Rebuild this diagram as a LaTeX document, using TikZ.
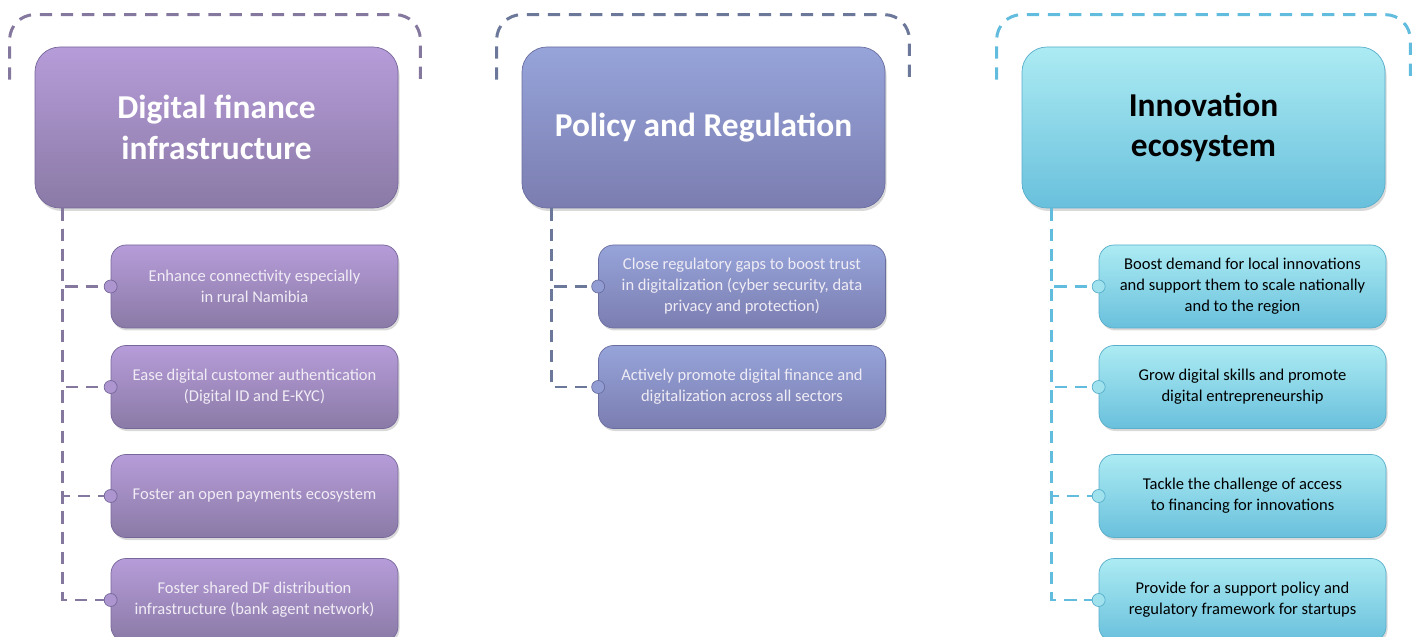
\documentclass[tikz,border=0pt]{standalone}
\usepackage{fontspec}
\setmainfont{Carlito}
\usepackage{tikz}
\usetikzlibrary{positioning,shadows}

\definecolor{dfTop}{HTML}{B69CD9}
\definecolor{dfBot}{HTML}{8A7AA6}
\definecolor{dfEdge}{HTML}{76679A}
\definecolor{dfLine}{HTML}{85789F}
\definecolor{prTop}{HTML}{96A4DA}
\definecolor{prBot}{HTML}{7B7DB0}
\definecolor{prEdge}{HTML}{6A6E9F}
\definecolor{prLine}{HTML}{6C7899}
\definecolor{ieTop}{HTML}{ACEBF3}
\definecolor{ieBot}{HTML}{69C0DC}
\definecolor{ieEdge}{HTML}{58AECB}
\definecolor{ieLine}{HTML}{62BCDE}
\definecolor{paleText}{HTML}{F0ECF5}

\begin{document}
\begin{tikzpicture}[
    head/.style={rectangle, rounded corners=0.5cm, thin, minimum width=7.26cm, minimum height=3.22cm, align=center, font=\fontsize{19}{23}\selectfont\bfseries, drop shadow={opacity=0.3, shadow xshift=0.03cm, shadow yshift=-0.06cm}},
    item/.style={rectangle, rounded corners=0.3cm, thin, minimum width=5.74cm, minimum height=1.66cm, align=center, font=\fontsize{9.4}{12}\selectfont, drop shadow={opacity=0.3, shadow xshift=0.03cm, shadow yshift=-0.05cm}},
    dfbox/.style={top color=dfTop, bottom color=dfBot, draw=dfEdge},
    prbox/.style={top color=prTop, bottom color=prBot, draw=prEdge},
    iebox/.style={top color=ieTop, bottom color=ieBot, draw=ieEdge},
    link/.style={line width=1.7pt, dash pattern=on 7pt off 4.5pt},
    bracket/.style={line width=1.7pt, dash pattern=on 7pt off 5pt, rounded corners=0.5cm},
]
\useasboundingbox (0,0) rectangle (28.3,-12.74);

% Column 1 - Digital finance infrastructure
\node[head, dfbox, text=white] (dfi) at (4.33,-2.55) {Digital finance\\infrastructure};

\node[item, dfbox, text=paleText] (conn) at (5.09,-5.73) {Enhance connectivity especially\\in rural Namibia};
\node[item, dfbox, text=paleText] (auth) at (5.09,-7.74) {Ease digital customer authentication\\(Digital ID and E-KYC)};
\node[item, dfbox, text=paleText] (pay) at (5.09,-9.92) {Foster an open payments ecosystem};
\node[item, dfbox, text=paleText] (agent) at (5.09,-12.0) {Foster shared DF distribution\\infrastructure (bank agent network)};

% Column 2 - Policy and Regulation
\node[head, prbox, text=white] (pol) at (14.07,-2.55) {Policy and Regulation};

\node[item, prbox, text=paleText] (gaps) at (14.84,-5.73) {Close regulatory gaps to boost trust\\in digitalization (cyber security, data\\privacy and protection)};
\node[item, prbox, text=paleText] (promo) at (14.84,-7.74) {Actively promote digital finance and\\digitalization across all sectors};

% Column 3 - Innovation ecosystem
\node[head, iebox, text=black] (ino) at (24.07,-2.55) {Innovation\\ecosystem};

\node[item, iebox, text=black] (demand) at (24.85,-5.73) {Boost demand for local innovations\\and support them to scale nationally\\and to the region};
\node[item, iebox, text=black] (skills) at (24.85,-7.74) {Grow digital skills and promote\\digital entrepreneurship};
\node[item, iebox, text=black] (access) at (24.85,-9.92) {Tackle the challenge of access\\to financing for innovations};
\node[item, iebox, text=black] (startup) at (24.85,-12.0) {Provide for a support policy and\\regulatory framework for startups};

% Brackets over the heads
\draw[bracket, dfLine] ([xshift=-0.5cm, yshift=-0.66cm]dfi.north west) |- ([yshift=0.64cm]dfi.north) -| ([xshift=0.44cm, yshift=-0.66cm]dfi.north east);
\draw[bracket, prLine] ([xshift=-0.5cm, yshift=-0.66cm]pol.north west) |- ([yshift=0.64cm]pol.north) -| ([xshift=0.48cm, yshift=-0.66cm]pol.north east);
\draw[bracket, ieLine] ([xshift=-0.5cm, yshift=-0.66cm]ino.north west) |- ([yshift=0.64cm]ino.north) -| ([xshift=0.5cm, yshift=-0.66cm]ino.north east);

% Links from heads to items
\foreach \t in {conn, auth, pay, agent}
    \draw[link, dfLine] ([xshift=0.56cm]dfi.south west) |- (\t.west);
\foreach \t in {gaps, promo}
    \draw[link, prLine] ([xshift=0.6cm]pol.south west) |- (\t.west);
\foreach \t in {demand, skills, access, startup}
    \draw[link, ieLine] ([xshift=0.6cm]ino.south west) |- (\t.west);

% Knobs
\foreach \t in {conn, auth, pay, agent}
    \filldraw[draw=dfEdge, fill=dfTop!80!dfBot] (\t.west) circle (0.13cm);
\foreach \t in {gaps, promo}
    \filldraw[draw=prEdge, fill=prTop!80!prBot] (\t.west) circle (0.13cm);
\foreach \t in {demand, skills, access, startup}
    \filldraw[draw=ieEdge, fill=ieTop!80!ieBot] (\t.west) circle (0.13cm);

\end{tikzpicture}
\end{document}
